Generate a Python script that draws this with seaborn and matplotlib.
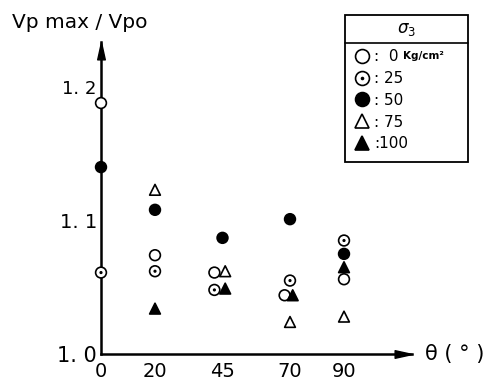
import numpy as np
import pandas as pd
import matplotlib
matplotlib.use("Agg")
import matplotlib.pyplot as plt
import seaborn as sns
from matplotlib.path import Path
from matplotlib.lines import Line2D
from matplotlib.patches import Rectangle

# ---------------- data ----------------
sigma_levels = ["0", "25", "50", "75", "100"]
legend_labels = [":  0", ": 25", ": 50", ": 75", ":100"]
legend_title = "$\\sigma_3$"
unit_label = "Kg/cm²"

theta_s0 = [0, 20, 42, 68, 90]
ratio_s0 = [1.188, 1.074, 1.061, 1.044, 1.056]

theta_s25 = [0, 20, 42, 70, 90]
ratio_s25 = [1.061, 1.062, 1.048, 1.055, 1.085]

theta_s50 = [0, 20, 45, 70, 90]
ratio_s50 = [1.140, 1.108, 1.087, 1.101, 1.075]

theta_s75 = [20, 46, 70, 90]
ratio_s75 = [1.123, 1.062, 1.024, 1.028]

theta_s100 = [20, 46, 71, 90]
ratio_s100 = [1.034, 1.049, 1.044, 1.065]

x_ticks = [0, 20, 45, 70, 90]
y_ticks = [1.0, 1.1, 1.2]
y_tick_labels = ["1. 0", "1. 1", "1. 2"]

frames = []
for lev, th, r in zip(sigma_levels,
                      [theta_s0, theta_s25, theta_s50, theta_s75, theta_s100],
                      [ratio_s0, ratio_s25, ratio_s50, ratio_s75, ratio_s100]):
    frames.append(pd.DataFrame({"theta": th, "ratio": r, "sigma": lev}))
df = pd.concat(frames, ignore_index=True)

# ---------------- style ----------------
sns.set_style("white")
plt.rcParams["font.family"] = ["DejaVu Sans"]
for k in ["text.color", "axes.labelcolor", "xtick.color", "ytick.color"]:
    plt.rcParams[k] = "black"

# circle with a centre dot marker
dot_circle = Path.make_compound_path(Path.unit_circle(),
                                     Path.circle((0, 0), 0.14))
markers = {"0": "o", "25": dot_circle, "50": "o", "75": "^", "100": "^"}
faces = {"0": "white", "25": "white", "50": "black", "75": "white", "100": "black"}

W, H = 504, 387
fig = plt.figure(figsize=(W / 100, H / 100), dpi=100)
x0, y0, x1, y1 = 101, 354, 412, 42
ax = fig.add_axes([x0 / W, (H - y0) / H, (x1 - x0) / W, (y0 - y1) / H])

sns.scatterplot(data=df, x="theta", y="ratio", hue="sigma", style="sigma",
                hue_order=sigma_levels, style_order=sigma_levels,
                palette=faces, markers=markers, s=60, edgecolor="black",
                linewidth=1.2, legend=False, ax=ax, clip_on=False, zorder=5)

ax.set_xlim(0, (x1 - x0) / 2.7)
ax.set_ylim(1.0, 1.0 + (y0 - y1) / 1335)
ax.set_xticks(x_ticks)
ax.set_xticklabels([str(t) for t in x_ticks], fontsize=14)
ax.set_yticks(y_ticks)
ax.set_yticklabels(y_tick_labels)
for lab, fs in zip(ax.get_yticklabels(), [15, 14, 13]):
    lab.set_fontsize(fs)
ax.set_xlabel("")
ax.set_ylabel("")
ax.tick_params(direction="in", length=4, width=1.3, colors="black")
ax.tick_params(axis="x", pad=6)
ax.tick_params(axis="y", pad=3)
for side in ["top", "right"]:
    ax.spines[side].set_visible(False)
for side in ["left", "bottom"]:
    ax.spines[side].set_linewidth(1.8)
    ax.spines[side].set_color("black")

# arrow heads
arrow_r = Path([(-1, 0.22), (0, 0), (-1, -0.22), (-1, 0.22)],
               [Path.MOVETO, Path.LINETO, Path.LINETO, Path.CLOSEPOLY])
arrow_u = Path([(0.22, -1), (0, 0), (-0.22, -1), (0.22, -1)],
               [Path.MOVETO, Path.LINETO, Path.LINETO, Path.CLOSEPOLY])
ax.plot([1], [0], marker=arrow_r, ms=25, color="black", transform=ax.transAxes,
        clip_on=False)
ax.plot([0], [1], marker=arrow_u, ms=25, color="black", transform=ax.transAxes,
        clip_on=False)

fig.text(12 / W, 1 - 22 / H, "Vp max / Vpo", fontsize=14.5, va="center", ha="left")
fig.text(425 / W, 1 - 354 / H, "θ ( ° )", fontsize=15, va="center", ha="left")

# legend (frame drawn separately so that it can hold the unit text)
bx0, by0, bx1, by1, sep = 345, 15, 468, 162, 43
fig.add_artist(Rectangle((bx0 / W, 1 - by1 / H), (bx1 - bx0) / W, (by1 - by0) / H,
                         transform=fig.transFigure, fill=False,
                         edgecolor="black", lw=1.3))
fig.add_artist(Line2D([bx0 / W, bx1 / W], [1 - sep / H, 1 - sep / H],
                      color="black", lw=1.2))
fig.text((bx0 + bx1) / 2 / W, 1 - 29 / H, legend_title, fontsize=12,
         ha="center", va="center")

handles = [Line2D([], [], linestyle="none", marker=markers[l], markersize=10,
                  markerfacecolor=faces[l], markeredgecolor="black",
                  markeredgewidth=1.2) for l in sigma_levels]
leg = fig.legend(handles, legend_labels, loc="upper left",
                 bbox_to_anchor=(354 / W, 1 - 49 / H), bbox_transform=fig.transFigure,
                 fontsize=11, frameon=False,
                 handlelength=1.0, handletextpad=0.3, labelspacing=0.45,
                 borderpad=0, borderaxespad=0)

fig.canvas.draw()
t0 = leg.get_texts()[0].get_window_extent()
fig.text((t0.x1 + 5) / W, (t0.y0 + 3) / H, unit_label, fontsize=7.5,
         fontweight="bold", va="bottom", ha="left")

fig.savefig("out.png", dpi=100)
